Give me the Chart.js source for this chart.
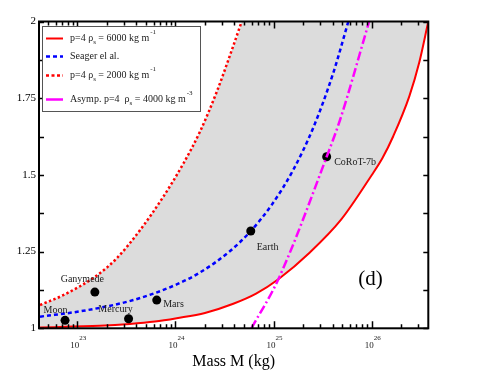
<!DOCTYPE html>
<html>
<head>
<meta charset="utf-8">
<script src="https://cdn.jsdelivr.net/npm/chart.js@4/dist/chart.umd.min.js"></script>
<style>
  html, body { margin: 0; padding: 0; background: #fff; }
</style>
</head>
<body>
<canvas id="myChart" width="480" height="371"></canvas>
<script>
// planets (mass in kg, radius factor)
const planetNames = ["Moon", "Ganymede", "Mercury", "Mars", "Earth", "CoRoT-7b"];
const planetMass = [7.5e22, 1.51e23, 3.33e23, 6.45e23, 5.86e24, 3.48e25];
const planetR = [1.026, 1.118, 1.031, 1.092, 1.317, 1.559];

// p=4 rho_s = 6000
const rho6000Mass = [4.17e22, 1.7e23, 3.44e23, 6.19e23, 1.03e24, 2.0e24, 3.89e24, 6.64e24, 1.12e25, 2.36e25, 4.88e25, 1.0e26, 1.29e26, 1.66e26, 2.42e26, 3.06e26, 3.78e26];
const rho6000R = [1.003, 1.008, 1.014, 1.022, 1.033, 1.05, 1.08, 1.113, 1.16, 1.248, 1.354, 1.499, 1.555, 1.626, 1.756, 1.867, 2.0];

// Seager et al.
const seagerMass = [4.17e22, 1.15e23, 3.72e23, 1.03e24, 1.78e24, 3.61e24, 5.86e24, 9.66e24, 1.58e25, 2.55e25, 4.07e25, 5.79e25];
const seagerR = [1.038, 1.057, 1.092, 1.143, 1.182, 1.252, 1.317, 1.404, 1.515, 1.655, 1.833, 2.0];

// p=4 rho_s = 2000
const rho2000Mass = [4.17e22, 7.19e22, 1.58e23, 2.52e23, 4.36e23, 7.53e23, 1.21e24, 1.78e24, 2.64e24, 3.61e24, 4.74e24];
const rho2000R = [1.076, 1.108, 1.172, 1.228, 1.32, 1.429, 1.538, 1.641, 1.771, 1.891, 2.0];

// asymptotic p=4 rho_s = 4000
const asympMass = [5.95e24, 1.12e25, 3.48e25, 4.76e25, 9.43e25];
const asympR = [1.0, 1.16, 1.559, 1.679, 2.0];

// axes
const xMin = 4.07e22, xMax = 3.78e26;
const yMin = 1, yMax = 2;
const yTickLabels = ["1", "1.25", "1.5", "1.75", "2"];
const xTickExp = ["23", "24", "25", "26"];

// label offsets from the point (px), align
const planetLabelPos = [[-9.5, -10, "center"], [-12.5, -13, "center"], [-13, -9, "center"], [6.5, 4, "left"], [6, 16, "left"], [7.5, 6, "left"]];

const legendRows = [
  { ds: 1, dash: [], parts: [["p=4 ρ", 0], ["s", -1], [" = 6000 kg m", 0], ["-1", 1]] },
  { ds: 3, dash: [4, 3], parts: [["Seager el al.", 0]] },
  { ds: 2, dash: [3, 2.5], parts: [["p=4 ρ", 0], ["s", -1], [" = 2000 kg m", 0], ["-1", 1]] },
  { ds: 4, dash: [], parts: [["Asymp. p=4  ρ", 0], ["s", -1], [" = 4000 kg m", 0], ["-3", 1]] },
];

function pts(xs, ys) {
  return xs.map((x, i) => ({ x: x, y: ys[i] }));
}

// upper edge of the grey band: rho=2000 curve then the top of the box
const bandMass = rho2000Mass.concat([5.3e24, xMax]);
const bandR = rho2000R.concat([2.1, 2.1]);

const SERIF = "'Liberation Serif', 'DejaVu Serif', serif";

const framePlugin = {
  id: "frame",
  afterDraw(chart) {
    const ctx = chart.ctx;
    const a = chart.chartArea;
    const xs = chart.scales.x;
    const ys = chart.scales.y;
    ctx.save();

    // planet labels
    ctx.fillStyle = "#222";
    ctx.font = "10px " + SERIF;
    ctx.textBaseline = "middle";
    const pm = chart.getDatasetMeta(5);
    pm.data.forEach((p, i) => {
      const o = planetLabelPos[i];
      ctx.textAlign = o[2];
      ctx.fillText(planetNames[i], p.x + o[0], p.y + o[1]);
    });

    // frame
    ctx.strokeStyle = "#000";
    ctx.lineWidth = 2;
    ctx.strokeRect(a.left, a.top, a.right - a.left, a.bottom - a.top);

    // x ticks (inward, top and bottom)
    ctx.lineWidth = 1.5;
    ctx.beginPath();
    for (let e = 22; e <= 26; e++) {
      for (let m = 1; m <= 9; m++) {
        const v = m * Math.pow(10, e);
        if (v < xMin || v > xMax) continue;
        const px = Math.round(xs.getPixelForValue(v)) + 0.5;
        const len = m === 1 ? 7 : 4;
        ctx.moveTo(px, a.bottom); ctx.lineTo(px, a.bottom - len);
        ctx.moveTo(px, a.top); ctx.lineTo(px, a.top + len);
      }
    }
    // y ticks
    for (let v = yMin; v <= yMax + 1e-9; v += 0.125) {
      const py = Math.round(ys.getPixelForValue(v)) + 0.5;
      ctx.moveTo(a.left, py); ctx.lineTo(a.left + 5, py);
      ctx.moveTo(a.right, py); ctx.lineTo(a.right - 5, py);
    }
    ctx.stroke();

    // y tick labels
    ctx.fillStyle = "#000";
    ctx.font = "11px " + SERIF;
    ctx.textAlign = "right";
    ctx.textBaseline = "middle";
    yTickLabels.forEach((t) => {
      ctx.fillText(t, a.left - 3, ys.getPixelForValue(parseFloat(t)));
    });

    // x tick labels 10^n
    ctx.textAlign = "left";
    xTickExp.forEach((ex) => {
      const px = xs.getPixelForValue(Math.pow(10, parseInt(ex)));
      ctx.font = "9px " + SERIF;
      const w1 = ctx.measureText("10").width;
      ctx.font = "7px " + SERIF;
      const w2 = ctx.measureText(ex).width;
      const x0 = px - (w1 + w2) / 2 + 1;
      ctx.font = "9px " + SERIF;
      ctx.fillStyle = "#222";
      ctx.fillText("10", x0, a.bottom + 17);
      ctx.font = "7px " + SERIF;
      ctx.fillText(ex, x0 + w1, a.bottom + 9.5);
    });

    // axis title
    ctx.fillStyle = "#000";
    ctx.font = "16px " + SERIF;
    ctx.textAlign = "center";
    ctx.fillText("Mass M (kg)", (a.left + a.right) / 2, a.bottom + 33.5);

    // panel tag
    ctx.font = "21px " + SERIF;
    ctx.fillText("(d)", 370.5, 279);

    // legend
    const lx = 42.5, ly = 26.5, lw = 158, lh = 85;
    ctx.fillStyle = "#fff";
    ctx.fillRect(lx, ly, lw, lh);
    ctx.strokeStyle = "#555";
    ctx.lineWidth = 1;
    ctx.strokeRect(lx, ly, lw, lh);
    const rowY = [38.5, 56.5, 75.5, 99.5];
    legendRows.forEach((row, i) => {
      const ds = chart.data.datasets[row.ds];
      const y = rowY[i];
      ctx.save();
      ctx.strokeStyle = ds.borderColor;
      ctx.lineWidth = ds.borderWidth;
      ctx.setLineDash(row.dash);
      ctx.beginPath();
      ctx.moveTo(46, y); ctx.lineTo(63, y);
      ctx.stroke();
      ctx.restore();
      let x = 70;
      ctx.textAlign = "left";
      ctx.fillStyle = "#222";
      row.parts.forEach((p) => {
        if (p[1] === 0) {
          ctx.font = "10px " + SERIF;
          ctx.fillText(p[0], x, y);
        } else if (p[1] < 0) {
          ctx.font = "7px " + SERIF;
          ctx.fillText(p[0], x, y + 3.5);
        } else {
          ctx.font = "7px " + SERIF;
          ctx.fillText(p[0], x + 1, y - 6);
        }
        x += ctx.measureText(p[0]).width + (p[1] > 0 ? 1 : 0);
      });
    });

    ctx.restore();
  },
};

const ctx = document.getElementById("myChart").getContext("2d");
const myChart = new Chart(ctx, {
  type: "line",
  data: {
    datasets: [
      {
        label: "band",
        data: pts(bandMass, bandR),
        borderWidth: 0,
        borderColor: "rgba(0,0,0,0)",
        backgroundColor: "#dcdcdc",
        fill: 1,
        order: 4,
      },
      {
        label: "rho6000",
        data: pts(rho6000Mass, rho6000R),
        borderColor: "#ff0000",
        borderWidth: 2,
        order: 3,
      },
      {
        label: "rho2000",
        data: pts(rho2000Mass, rho2000R),
        borderColor: "#ff0000",
        borderWidth: 2.5,
        borderDash: [2.4, 2.4],
        order: 3,
      },
      {
        label: "seager",
        data: pts(seagerMass, seagerR),
        borderColor: "#0000ff",
        borderWidth: 2.5,
        borderDash: [4, 3],
        order: 3,
      },
      {
        label: "asymp",
        data: pts(asympMass, asympR),
        borderColor: "#ff00ff",
        borderWidth: 2.5,
        borderDash: [9, 3, 2, 3],
        order: 0,
      },
      {
        label: "planets",
        data: pts(planetMass, planetR),
        showLine: false,
        pointRadius: 4.5,
        pointBackgroundColor: "#000",
        pointBorderWidth: 0,
        order: 1,
      },
    ],
  },
  options: {
    responsive: false,
    animation: false,
    devicePixelRatio: 1,
    layout: { padding: { left: 39, right: 51.7, top: 21.5, bottom: 42.7 } },
    elements: {
      line: { tension: 0.4, cubicInterpolationMode: "monotone", fill: false },
      point: { radius: 0 },
    },
    scales: {
      x: { type: "logarithmic", min: xMin, max: xMax, display: false },
      y: { type: "linear", min: yMin, max: yMax, display: false },
    },
    plugins: {
      legend: { display: false },
      tooltip: { enabled: false },
    },
  },
  plugins: [framePlugin],
});
</script>
</body>
</html>
